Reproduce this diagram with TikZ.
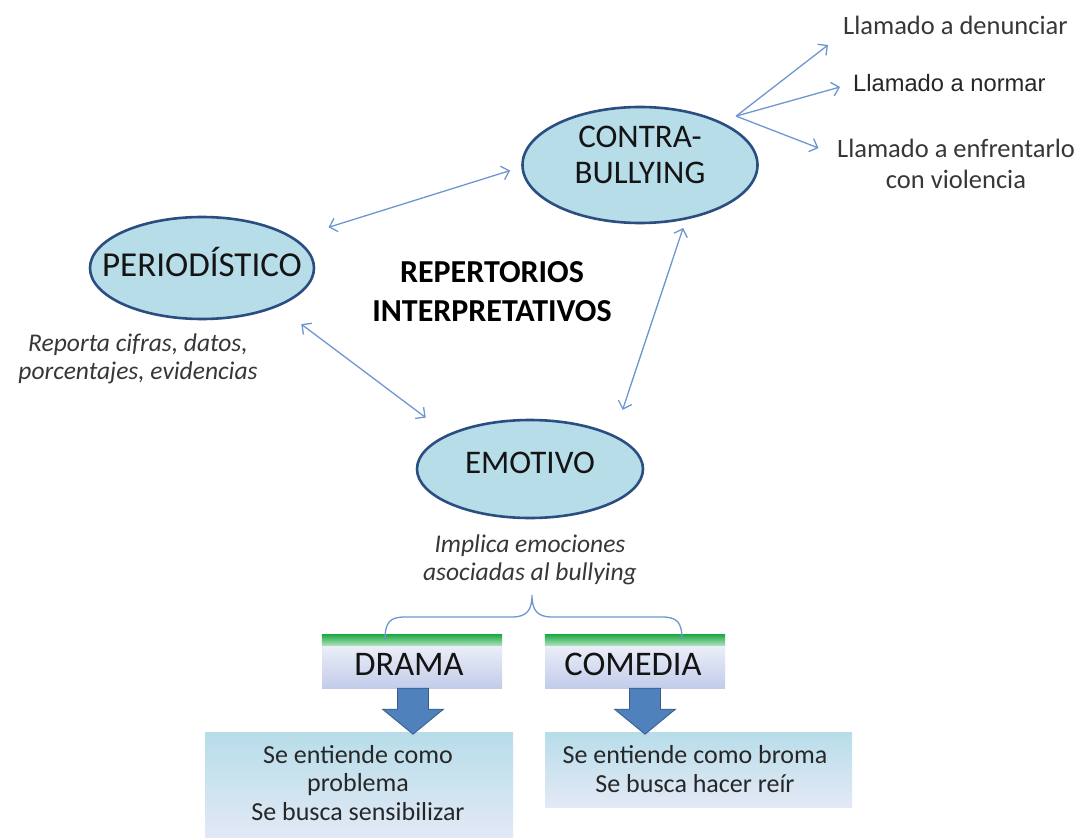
\documentclass[tikz,border=0pt]{standalone}
\usepackage{fontspec}
\setmainfont{Carlito}
\newfontfamily\arialf{Liberation Sans}
\usetikzlibrary{shapes.geometric,arrows.meta,calc}
\definecolor{ellfill}{RGB}{183,221,232}
\definecolor{elldraw}{RGB}{43,78,130}
\definecolor{arrc}{RGB}{112,150,208}
\definecolor{txtdark}{RGB}{20,20,20}
\definecolor{txtgray}{RGB}{55,55,55}
\definecolor{hgreen}{RGB}{34,172,72}
\definecolor{hlav}{RGB}{194,204,234}
\definecolor{lowtop}{RGB}{183,221,233}
\definecolor{lowbot}{RGB}{228,233,246}
\definecolor{blockfill}{RGB}{79,129,189}
\definecolor{blockdraw}{RGB}{56,93,138}
\tikzset{
  ell/.style={ellipse, draw=elldraw, line width=2.6pt, fill=ellfill, inner sep=0pt},
  elltxt/.style={font=\fontsize{33}{36}\selectfont, text=txtdark, align=center, inner sep=0pt},
  conn/.style={draw=arrc, line width=1.3pt},
  dbl/.style={conn, {Straight Barb[length=7pt,width=14pt]}-{Straight Barb[length=7pt,width=14pt]}},
  sgl/.style={conn, -{Straight Barb[length=7pt,width=14pt]}},
  ital/.style={font=\fontsize{25.5}{28}\selectfont\itshape, text=txtgray, align=center, inner sep=0pt},
  side/.style={font=\fontsize{26.5}{31}\selectfont, text=txtgray, align=center, inner sep=0pt},
  headbox/.style={rectangle, minimum width=180pt, minimum height=53pt, inner sep=0pt, top color=white!85!hlav, bottom color=hlav},
  headtxt/.style={font=\fontsize{34.5}{36}\selectfont, text=txtdark, inner sep=0pt},
  lowbox/.style={rectangle, inner sep=0pt, top color=lowtop, bottom color=lowbot},
  lowtxt/.style={font=\fontsize{26}{28.5}\selectfont, text=txtdark!92!white, align=center, inner sep=0pt},
  blockarrow/.style={fill=blockfill, draw=blockdraw, line width=0.8pt},
  bracestyle/.style={draw=arrc, line width=1.3pt}
}
\begin{document}
\begin{tikzpicture}[x=1pt,y=-1pt]
\fill[white] (0,0) rectangle (1083,837);
\useasboundingbox (0,0) rectangle (1083,837);

% ellipses
\node[ell, minimum width=224pt, minimum height=102pt] (peri) at (202,268) {};
\node[ell, minimum width=235pt, minimum height=116pt] (contra) at (640,165) {};
\node[ell, minimum width=226pt, minimum height=98pt] (emot) at (530,469) {};
\node[elltxt, font=\fontsize{35}{36}\selectfont] (peritxt) at (202,262) {PERIODÍSTICO};
\node[elltxt] (contratxt) at (640,155) {CONTRA-\\BULLYING};
\node[elltxt] (emottxt) at (530,463) {EMOTIVO};

% central title
\node[font=\fontsize{32}{39}\selectfont\bfseries, text=black, align=center, inner sep=0pt] (title) at (492,292) {REPERTORIOS\\INTERPRETATIVOS};

% italic descriptions
\node[ital] (peridesc) at (138,359) {Reporta cifras, datos,\\porcentajes, evidencias};
\node[ital] (emotdesc) at (530,560) {Implica emociones\\asociadas al bullying};

% right-hand texts
\node[side, anchor=west] (d1) at (843,25) {Llamado a denunciar};
\node[font=\arialf\fontsize{23.7}{26}\selectfont, text=black!85!white, anchor=west, inner sep=0pt] (n1) at (853,83) {Llamado a normar};
\node[side] (e1) at (956,164) {Llamado a enfrentarlo\\con violencia};

% connectors between ellipses
\draw[dbl, shorten <=35.5pt, shorten >=11.7pt] (peri.18.1) -- (contra.181.9);
\draw[dbl, shorten <=29pt, shorten >=27.5pt] (peri.-27.1) -- (emot.157.3);
\draw[dbl, shorten <=26.5pt, shorten >=8.7pt] (emot.22.6) -- (contra.-50.2);

% fan from contra
\coordinate (hub) at ($(contra.27)+(13,-6.5)$);
\draw[sgl] (hub) -- ($(d1.west)+(-15,20)$);
\draw[sgl] (hub) -- ($(n1.west)+(-13,4)$);
\draw[sgl] (hub) -- ($(e1.west)+(-18.5,-16)$);

% header boxes
\node[headbox] (dh) at (412,661.5) {};
\node[headbox] (ch) at (635,661.5) {};
\fill[top color=hgreen, bottom color=hgreen!35!white] (dh.north west) rectangle ($(dh.north east)+(0,11)$);
\fill[top color=hgreen, bottom color=hgreen!35!white] (ch.north west) rectangle ($(ch.north east)+(0,11)$);
\node[headtxt] (dhtxt) at (409,664) {DRAMA};
\node[headtxt] (chtxt) at (633,664) {COMEDIA};

% brace
\draw[bracestyle] (385,640) .. controls (385,622) and (390,617) .. (405,617) -- (512,617)
   .. controls (527,617) and (532,610) .. (532,595)
   .. controls (532,610) and (537,617) .. (552,617) -- (662,617)
   .. controls (677,617) and (682,622) .. (682,640);

% lower boxes
\node[lowbox, minimum width=308pt, minimum height=110pt] (dl) at (359,787) {};
\node[lowbox, minimum width=307pt, minimum height=75pt] (cl) at (698.5,769.5) {};
\node[lowtxt] (dltxt) at (358,783) {Se entiende como\\problema\\Se busca sensibilizar};
\node[lowtxt] (cltxt) at (695,769) {Se entiende como broma\\Se busca hacer reír};

% block arrows
\draw[blockarrow] ($(dh.south)+(1,0)$) ++(-15.5,0) -- ++(31,0) -- ++(0,21) -- ++(15,0) -- ++(-30.5,25) -- ++(-30.5,-25) -- ++(15,0) -- cycle;
\draw[blockarrow] ($(ch.south)+(10,0)$) ++(-15.5,0) -- ++(31,0) -- ++(0,21) -- ++(15,0) -- ++(-30.5,25) -- ++(-30.5,-25) -- ++(15,0) -- cycle;
\end{tikzpicture}
\end{document}
